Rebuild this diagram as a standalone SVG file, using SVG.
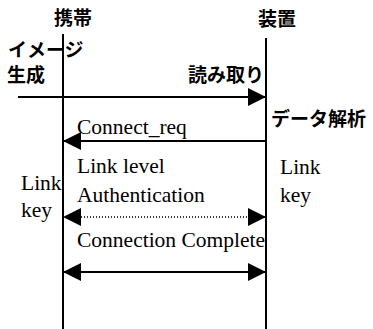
<svg xmlns="http://www.w3.org/2000/svg" width="373" height="329" viewBox="0 0 373 329">
<style>
.jp{font-family:"Noto Sans CJK JP","Noto Sans CJK SC",sans-serif;font-size:19px;font-weight:bold;fill:#000}
.en{font-family:"Liberation Serif","Times New Roman",serif;font-size:21.5px;fill:#000}
.life{stroke:#000;stroke-width:2;fill:none}
.msg{stroke:#000;stroke-width:2;fill:none}
.dot{stroke:#000;stroke-width:1.5;stroke-dasharray:1 2;fill:none}
</style>
<defs>
<marker id="ah" markerUnits="userSpaceOnUse" markerWidth="18" markerHeight="18" refX="18" refY="9" orient="auto" viewBox="0 0 18 18">
<path d="M0,0 L18,9 L0,18 Z" fill="#000"/>
</marker>
<marker id="as" markerUnits="userSpaceOnUse" markerWidth="18" markerHeight="18" refX="0" refY="9" orient="auto" viewBox="0 0 18 18">
<path d="M18,0 L0,9 L18,18 Z" fill="#000"/>
</marker>
</defs>
<rect width="373" height="329" fill="#fff"/>
<g id="mobile">
<text class="jp" x="73" y="25" text-anchor="middle">携帯</text>
<line class="life" x1="63" y1="34" x2="63" y2="329"/>
</g>
<g id="device">
<text class="jp" x="277" y="26" text-anchor="middle">装置</text>
<line class="life" x1="266" y1="38" x2="266" y2="329"/>
</g>
<g id="notes">
<text class="jp" x="8" y="57">イメージ</text>
<text class="jp" x="7" y="82">生成</text>
<text class="jp" x="264" y="82" text-anchor="end">読み取り</text>
<text class="jp" x="271" y="126">データ解析</text>
<text class="en" x="21" y="190">Link</text>
<text class="en" x="21" y="217">key</text>
<text class="en" x="280" y="174">Link</text>
<text class="en" x="280" y="202">key</text>
</g>
<g id="connectors">
<line class="msg" x1="18" y1="97" x2="266" y2="97" marker-end="url(#ah)"/>
<line class="msg" x1="266" y1="141" x2="63" y2="141" marker-end="url(#ah)"/>
<text class="en" x="77" y="134">Connect_req</text>
<text class="en" x="77" y="173">Link level</text>
<text class="en" x="77" y="202">Authentication</text>
<line class="dot" x1="63" y1="217" x2="266" y2="217" marker-start="url(#as)" marker-end="url(#ah)"/>
<text class="en" x="77" y="247">Connection Complete</text>
<line class="msg" x1="63" y1="272" x2="266" y2="272" marker-start="url(#as)" marker-end="url(#ah)"/>
</g>
</svg>
